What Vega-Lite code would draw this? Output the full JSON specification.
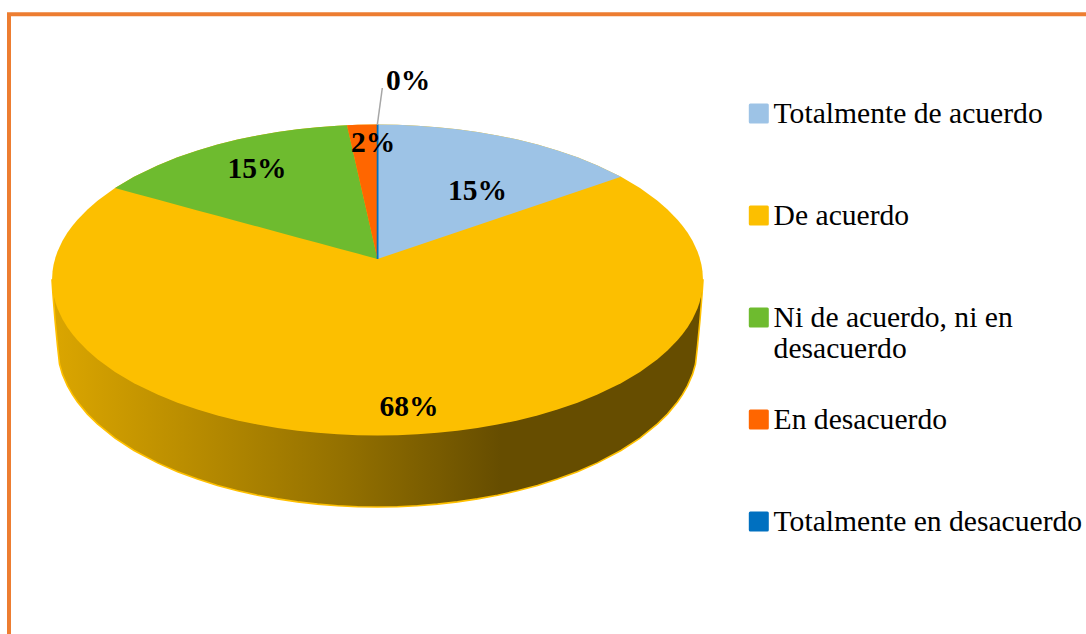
{"$schema":"https://vega.github.io/schema/vega-lite/v6.json","width":1086,"height":634,"padding":0,"autosize":{"type":"none"},"background":"white","config":{"view":{"stroke":null},"font":"Liberation Serif"},
"datasets":{
"pared":[{"x":52,"y":280,"y2":280},{"x":53,"y":280,"y2":295},{"x":55,"y":280,"y2":320},{"x":57.5,"y":280,"y2":346},{"x":59.5,"y":280,"y2":364},{"x":62.5,"y":280,"y2":374.4},{"x":67.5,"y":280,"y2":385.9},{"x":72.5,"y":280,"y2":394.7},{"x":77.5,"y":280,"y2":402},{"x":87.5,"y":280,"y2":414.1},{"x":97.5,"y":280,"y2":423.9},{"x":115,"y":280,"y2":438.1},{"x":134,"y":280,"y2":450.5},{"x":157.5,"y":280,"y2":462.9},{"x":177.5,"y":280,"y2":471.7},{"x":197.5,"y":280,"y2":479.1},{"x":217.5,"y":280,"y2":485.4},{"x":237.5,"y":280,"y2":490.8},{"x":257.5,"y":280,"y2":495.2},{"x":277.5,"y":280,"y2":498.9},{"x":297.5,"y":280,"y2":501.9},{"x":317.5,"y":280,"y2":504.1},{"x":337.5,"y":280,"y2":505.7},{"x":357.5,"y":280,"y2":506.7},{"x":377.5,"y":280,"y2":507},{"x":397.5,"y":280,"y2":506.7},{"x":417.5,"y":280,"y2":505.7},{"x":437.5,"y":280,"y2":504.1},{"x":457.5,"y":280,"y2":501.9},{"x":477.5,"y":280,"y2":498.9},{"x":497.5,"y":280,"y2":495.2},{"x":517.5,"y":280,"y2":490.8},{"x":537.5,"y":280,"y2":485.4},{"x":557.5,"y":280,"y2":479.1},{"x":577.5,"y":280,"y2":471.7},{"x":597.5,"y":280,"y2":462.9},{"x":621,"y":280,"y2":450.5},{"x":640,"y":280,"y2":438.1},{"x":657.5,"y":280,"y2":423.9},{"x":667.5,"y":280,"y2":414.1},{"x":677.5,"y":280,"y2":402},{"x":682.5,"y":280,"y2":394.7},{"x":687.5,"y":280,"y2":385.9},{"x":692.5,"y":280,"y2":374.4},{"x":695.5,"y":280,"y2":364},{"x":697.5,"y":280,"y2":346},{"x":700,"y":280,"y2":320},{"x":702,"y":280,"y2":295},{"x":703,"y":280,"y2":280}],
"porciones":[
{"c":"De acuerdo","x":52,"y":280,"y2":280},{"c":"De acuerdo","x":52.5,"y":271.4,"y2":288.6},{"c":"De acuerdo","x":53.5,"y":265.1,"y2":294.9},{"c":"De acuerdo","x":55.5,"y":257.3,"y2":302.7},{"c":"De acuerdo","x":57.5,"y":251.5,"y2":308.5},{"c":"De acuerdo","x":62.5,"y":240.8,"y2":319.2},{"c":"De acuerdo","x":67.5,"y":232.6,"y2":327.4},{"c":"De acuerdo","x":72.5,"y":225.7,"y2":334.3},{"c":"De acuerdo","x":77.5,"y":219.7,"y2":340.3},{"c":"De acuerdo","x":87.5,"y":209.4,"y2":350.6},{"c":"De acuerdo","x":97.5,"y":200.7,"y2":359.3},{"c":"De acuerdo","x":115,"y":188.1,"y2":371.9},{"c":"De acuerdo","x":134,"y":176.8,"y2":383.2},{"c":"De acuerdo","x":157.5,"y":165.4,"y2":394.6},{"c":"De acuerdo","x":177.5,"y":157.3,"y2":402.7},{"c":"De acuerdo","x":197.5,"y":150.4,"y2":409.6},{"c":"De acuerdo","x":217.5,"y":144.6,"y2":415.4},{"c":"De acuerdo","x":237.5,"y":139.6,"y2":420.4},{"c":"De acuerdo","x":257.5,"y":135.4,"y2":424.6},{"c":"De acuerdo","x":277.5,"y":132,"y2":428},{"c":"De acuerdo","x":297.5,"y":129.3,"y2":430.7},{"c":"De acuerdo","x":317.5,"y":127.2,"y2":432.8},{"c":"De acuerdo","x":337.5,"y":125.7,"y2":434.3},{"c":"De acuerdo","x":357.5,"y":124.8,"y2":435.2},{"c":"De acuerdo","x":377.5,"y":124.5,"y2":435.5},{"c":"De acuerdo","x":397.5,"y":124.8,"y2":435.2},{"c":"De acuerdo","x":417.5,"y":125.7,"y2":434.3},{"c":"De acuerdo","x":437.5,"y":127.2,"y2":432.8},{"c":"De acuerdo","x":457.5,"y":129.3,"y2":430.7},{"c":"De acuerdo","x":477.5,"y":132,"y2":428},{"c":"De acuerdo","x":497.5,"y":135.4,"y2":424.6},{"c":"De acuerdo","x":517.5,"y":139.6,"y2":420.4},{"c":"De acuerdo","x":537.5,"y":144.6,"y2":415.4},{"c":"De acuerdo","x":557.5,"y":150.4,"y2":409.6},{"c":"De acuerdo","x":577.5,"y":157.3,"y2":402.7},{"c":"De acuerdo","x":597.5,"y":165.4,"y2":394.6},{"c":"De acuerdo","x":621,"y":176.8,"y2":383.2},{"c":"De acuerdo","x":640,"y":188.1,"y2":371.9},{"c":"De acuerdo","x":657.5,"y":200.7,"y2":359.3},{"c":"De acuerdo","x":667.5,"y":209.4,"y2":350.6},{"c":"De acuerdo","x":677.5,"y":219.7,"y2":340.3},{"c":"De acuerdo","x":682.5,"y":225.7,"y2":334.3},{"c":"De acuerdo","x":687.5,"y":232.6,"y2":327.4},{"c":"De acuerdo","x":692.5,"y":240.8,"y2":319.2},{"c":"De acuerdo","x":697.5,"y":251.5,"y2":308.5},{"c":"De acuerdo","x":699.5,"y":257.3,"y2":302.7},{"c":"De acuerdo","x":701.5,"y":265.1,"y2":294.9},{"c":"De acuerdo","x":702.5,"y":271.4,"y2":288.6},{"c":"De acuerdo","x":703,"y":280,"y2":280},
{"c":"Totalmente de acuerdo","x":377.5,"y":124.5,"y2":259},{"c":"Totalmente de acuerdo","x":397.5,"y":124.8,"y2":252.2},{"c":"Totalmente de acuerdo","x":417.5,"y":125.7,"y2":245.5},{"c":"Totalmente de acuerdo","x":437.5,"y":127.2,"y2":238.7},{"c":"Totalmente de acuerdo","x":457.5,"y":129.3,"y2":232},{"c":"Totalmente de acuerdo","x":477.5,"y":132,"y2":225.2},{"c":"Totalmente de acuerdo","x":497.5,"y":135.4,"y2":218.5},{"c":"Totalmente de acuerdo","x":517.5,"y":139.6,"y2":211.7},{"c":"Totalmente de acuerdo","x":537.5,"y":144.6,"y2":205},{"c":"Totalmente de acuerdo","x":557.5,"y":150.4,"y2":198.2},{"c":"Totalmente de acuerdo","x":577.5,"y":157.3,"y2":191.5},{"c":"Totalmente de acuerdo","x":597.5,"y":165.4,"y2":184.7},{"c":"Totalmente de acuerdo","x":621,"y":176.8,"y2":176.8},
{"c":"Ni de acuerdo, ni en desacuerdo","x":115,"y":188.1,"y2":188.1},{"c":"Ni de acuerdo, ni en desacuerdo","x":134,"y":176.8,"y2":193.2},{"c":"Ni de acuerdo, ni en desacuerdo","x":157.5,"y":165.4,"y2":199.6},{"c":"Ni de acuerdo, ni en desacuerdo","x":177.5,"y":157.3,"y2":205},{"c":"Ni de acuerdo, ni en desacuerdo","x":197.5,"y":150.4,"y2":210.4},{"c":"Ni de acuerdo, ni en desacuerdo","x":217.5,"y":144.6,"y2":215.8},{"c":"Ni de acuerdo, ni en desacuerdo","x":237.5,"y":139.6,"y2":221.2},{"c":"Ni de acuerdo, ni en desacuerdo","x":257.5,"y":135.4,"y2":226.6},{"c":"Ni de acuerdo, ni en desacuerdo","x":277.5,"y":132,"y2":232},{"c":"Ni de acuerdo, ni en desacuerdo","x":297.5,"y":129.3,"y2":237.4},{"c":"Ni de acuerdo, ni en desacuerdo","x":317.5,"y":127.2,"y2":242.8},{"c":"Ni de acuerdo, ni en desacuerdo","x":337.5,"y":125.7,"y2":248.3},{"c":"Ni de acuerdo, ni en desacuerdo","x":347,"y":125.2,"y2":250.8},{"c":"Ni de acuerdo, ni en desacuerdo","x":357.5,"y":171.3,"y2":253.6},{"c":"Ni de acuerdo, ni en desacuerdo","x":377.5,"y":259,"y2":259},
{"c":"En desacuerdo","x":347,"y":125.2,"y2":125.2},{"c":"En desacuerdo","x":357.5,"y":124.8,"y2":171.3},{"c":"En desacuerdo","x":377.5,"y":124.5,"y2":259},
{"c":"Totalmente en desacuerdo","x":376.7,"y":124.5,"y2":259},{"c":"Totalmente en desacuerdo","x":378.5,"y":124.5,"y2":259}
],
"etiquetas":[{"t":"15%","x":477.5,"y":191},{"t":"68%","x":409,"y":407},{"t":"15%","x":257,"y":169},{"t":"2%","x":373,"y":143},{"t":"0%","x":408,"y":81}],
"guia":[{"x":382.3,"y":88},{"x":377.3,"y":125}],
"marco":[{"x":7,"x2":1086,"y":14.3,"y2":14.3},{"x":9,"x2":9,"y":14.3,"y2":634}]
},
"encoding":{"x":{"type":"quantitative","scale":{"domain":[0,1086],"nice":false,"zero":false},"axis":null},"y":{"type":"quantitative","scale":{"domain":[0,634],"reverse":true,"nice":false,"zero":false},"axis":null}},
"layer":[
{"data":{"name":"marco"},"mark":{"type":"rule","color":"#ED7D31","strokeWidth":4},"encoding":{"x":{"field":"x","type":"quantitative"},"x2":{"field":"x2"},"y":{"field":"y","type":"quantitative"},"y2":{"field":"y2"}}},
{"data":{"name":"pared"},"mark":{"type":"area","fill":{"gradient":"linear","x1":0,"x2":1,"y1":0,"y2":0,"stops":[{"offset":0,"color":"#DBA600"},{"offset":0.45,"color":"#937000"},{"offset":0.69,"color":"#664D00"},{"offset":1,"color":"#664D00"}]},"stroke":"#FFC000","strokeWidth":1.6},"encoding":{"x":{"field":"x","type":"quantitative"},"y":{"field":"y","type":"quantitative","stack":null},"y2":{"field":"y2"}}},
{"data":{"name":"porciones"},"mark":{"type":"area"},"encoding":{"x":{"field":"x","type":"quantitative"},"y":{"field":"y","type":"quantitative","stack":null},"y2":{"field":"y2"},"color":{"field":"c","type":"nominal","scale":{"domain":["Totalmente de acuerdo","De acuerdo","Ni de acuerdo, ni en desacuerdo","En desacuerdo","Totalmente en desacuerdo"],"range":["#9DC3E6","#FCBF00","#6EBB2F","#FF6600","#0070C0"]},"legend":{"title":null,"orient":"none","legendX":744,"legendY":62.5,"symbolType":"M-0.85,-1H0.85Q1,-1 1,-0.85V0.85Q1,1 0.85,1H-0.85Q-1,1 -1,0.85V-0.85Q-1,-1 -0.85,-1Z","symbolSize":400,"symbolStrokeWidth":0,"symbolOpacity":1,"labelFont":"Liberation Serif","labelFontSize":29.6,"labelColor":"black","labelLimit":400,"labelOffset":0,"clipHeight":102,"rowPadding":0,"labelExpr":"datum.label=='Ni de acuerdo, ni en desacuerdo'?['Ni de acuerdo, ni en','desacuerdo']:datum.label"}}}},
{"data":{"name":"guia"},"mark":{"type":"line","color":"#A6A6A6","strokeWidth":1.5},"encoding":{"x":{"field":"x","type":"quantitative"},"y":{"field":"y","type":"quantitative"}}},
{"data":{"name":"etiquetas"},"mark":{"type":"text","font":"Liberation Serif","fontWeight":"bold","fontSize":29.5,"color":"black","align":"center","baseline":"middle"},"encoding":{"x":{"field":"x","type":"quantitative"},"y":{"field":"y","type":"quantitative"},"text":{"field":"t","type":"nominal"}}}
]}
